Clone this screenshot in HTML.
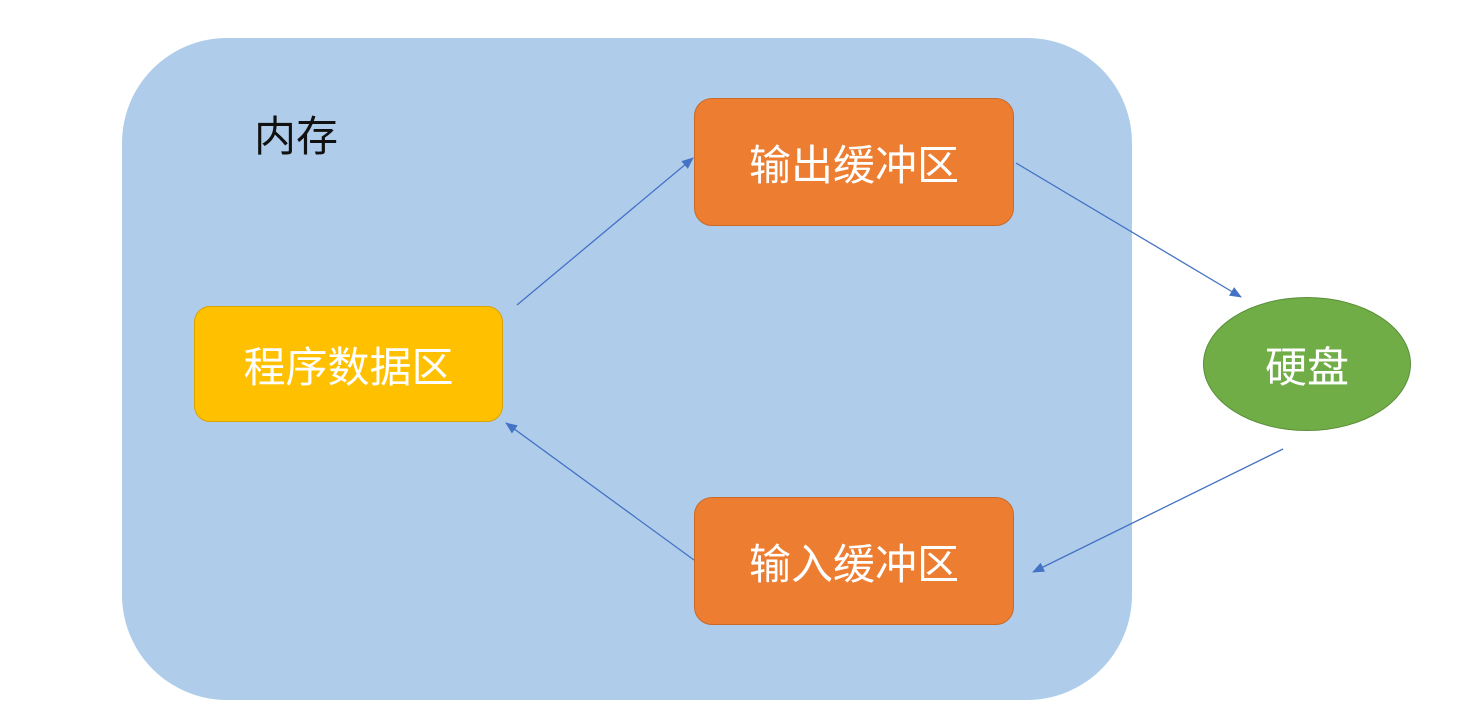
<!DOCTYPE html>
<html><head><meta charset="utf-8"><style>
html,body{margin:0;padding:0;background:#fff;}
body{width:1457px;height:727px;position:relative;overflow:hidden;font-family:"Liberation Sans","Noto Sans CJK SC",sans-serif;}
.b{position:absolute;display:flex;align-items:center;justify-content:center;color:#fff;font-size:42px;box-sizing:border-box;}
</style></head><body>
<div style="position:absolute;left:122px;top:38px;width:1010px;height:662px;border-radius:105px;background:#afcdea;"></div>
<div style="position:absolute;left:254px;top:112px;font-size:42px;color:#111;line-height:1.2;">内存</div>
<div class="b" style="left:694px;top:98px;width:320px;height:128px;background:#ed7d31;border:1px solid #c96a28;border-radius:18px;">输出缓冲区</div>
<div class="b" style="left:694px;top:497px;width:320px;height:128px;background:#ed7d31;border:1px solid #c96a28;border-radius:18px;">输入缓冲区</div>
<div class="b" style="left:194px;top:306px;width:309px;height:116px;background:#ffc000;border:1px solid #d9a300;border-radius:16px;">程序数据区</div>
<div class="b" style="left:1203px;top:297px;width:208px;height:134px;background:#70ad47;border:1px solid #5a8f38;border-radius:50%;">硬盘</div>
<svg width="1457" height="727" style="position:absolute;left:0;top:0">
<defs><marker id="a" markerWidth="12" markerHeight="10" refX="11" refY="5" orient="auto" markerUnits="userSpaceOnUse"><path d="M0,0L12,5L0,10z" fill="#4472c4"/></marker></defs>
<g stroke="#4472c4" stroke-width="1.3" fill="none" marker-end="url(#a)">
<line x1="517" y1="305" x2="693" y2="158"/>
<line x1="1016" y1="163" x2="1241" y2="297"/>
<line x1="1283" y1="449" x2="1033" y2="572"/>
<line x1="694" y1="560" x2="506" y2="423"/>
</g></svg>
</body></html>
